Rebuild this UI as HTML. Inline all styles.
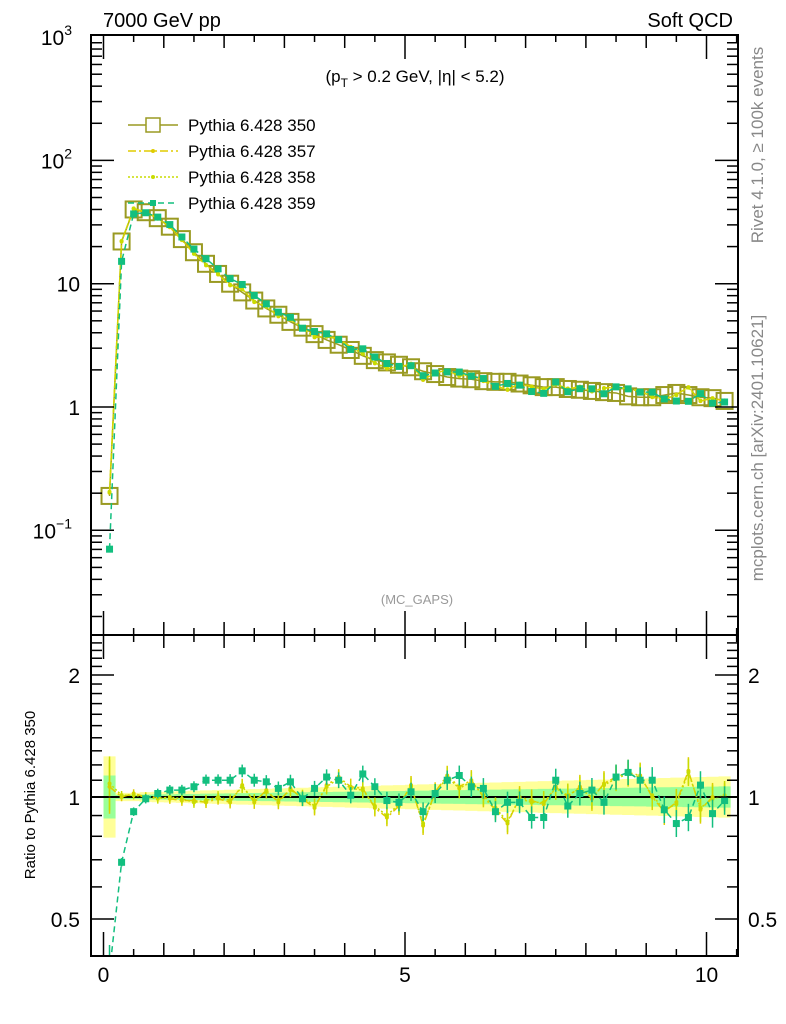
<!DOCTYPE html>
<html><head><meta charset="utf-8">
<style>
html,body{margin:0;padding:0;background:#fff;}
svg{display:block;font-family:"Liberation Sans",Arial,sans-serif;}
</style></head>
<body>
<svg id="chart" width="786" height="1024" viewBox="0 0 786 1024" xmlns="http://www.w3.org/2000/svg">
  <defs>
    <clipPath id="clipMain"><rect x="91" y="35" width="647" height="600"/></clipPath>
    <clipPath id="clipRatio"><rect x="91" y="635" width="647" height="321"/></clipPath>
  </defs>
  <g id="bands" clip-path="url(#clipRatio)"></g>
  <g id="mainSeries" clip-path="url(#clipMain)"></g>
  <g id="ratioSeries" clip-path="url(#clipRatio)"></g>
  <g id="axes"></g>
  <rect x="91" y="35" width="647" height="600" fill="none" stroke="#000" stroke-width="2"/>
  <rect x="91" y="635" width="647" height="321" fill="none" stroke="#000" stroke-width="2"/>

  <text x="103" y="27" font-size="20">7000 GeV pp</text>
  <text x="733" y="27" font-size="20" text-anchor="end">Soft QCD</text>
  <text x="415" y="82" font-size="17" text-anchor="middle">(p<tspan font-size="12" dy="5">T</tspan><tspan dy="-5"> &gt; 0.2 GeV, |η| &lt; 5.2)</tspan></text>
  <text x="417" y="604" font-size="13" fill="#999" text-anchor="middle">(MC_GAPS)</text>
  <text transform="translate(763,145) rotate(-90)" font-size="17" fill="#888" text-anchor="middle">Rivet 4.1.0, ≥ 100k events</text>
  <text transform="translate(763,448) rotate(-90)" font-size="17" fill="#888" text-anchor="middle">mcplots.cern.ch [arXiv:2401.10621]</text>
  <text transform="translate(35,795) rotate(-90)" font-size="15" text-anchor="middle">Ratio to Pythia 6.428 350</text>

  <g id="legend"></g>
</svg>
<script>
const binCenters = [0.1,0.3,0.5,0.7,0.9,1.1,1.3,1.5,1.7,1.9,2.1,2.3,2.5,2.7,2.9,3.1,3.3,3.5,3.7,3.9,4.1,4.3,4.5,4.7,4.9,5.1,5.3,5.5,5.7,5.9,6.1,6.3,6.5,6.7,6.9,7.1,7.3,7.5,7.7,7.9,8.1,8.3,8.5,8.7,8.9,9.1,9.3,9.5,9.7,9.9,10.1,10.3];
const ref350 = [0.19,22,40,38,34,29,23,18,14.5,12,10,8.5,7.3,6.3,5.6,4.9,4.4,3.9,3.5,3.2,2.9,2.6,2.4,2.3,2.2,2.1,1.95,1.85,1.75,1.7,1.68,1.62,1.6,1.6,1.55,1.5,1.45,1.45,1.4,1.38,1.35,1.32,1.3,1.22,1.2,1.2,1.25,1.3,1.25,1.2,1.18,1.12];
const ratio357 = [1.06,1.0,1.02,1.0,1.0,0.99,0.98,0.98,0.97,0.99,0.97,1.07,0.97,1.04,0.97,1.05,0.99,0.94,1.07,1.12,1.06,1.05,0.94,0.89,0.95,1.07,0.85,1.03,1.13,1.06,1.10,1.0,0.93,0.86,1.0,0.98,0.96,1.06,1.0,1.06,0.99,1.08,1.12,1.15,1.13,1.0,0.92,0.97,1.16,0.93,1.0,1.0];
const ratio358 = [1.08,1.01,1.01,1.0,0.99,1.0,0.99,0.97,0.98,1.0,0.98,1.06,0.98,1.03,0.98,1.04,1.0,0.95,1.06,1.11,1.05,1.04,0.95,0.90,0.96,1.06,0.86,1.02,1.12,1.05,1.09,1.01,0.94,0.87,0.99,0.97,0.97,1.05,1.01,1.05,1.0,1.07,1.11,1.14,1.12,1.01,0.93,0.96,1.15,0.94,0.99,1.01];
const ratio359 = [0.37,0.69,0.92,0.99,1.02,1.04,1.04,1.06,1.10,1.10,1.10,1.16,1.10,1.09,1.05,1.09,0.99,1.05,1.12,1.10,1.01,1.14,1.06,0.98,0.97,1.03,0.92,1.02,1.10,1.13,1.06,1.05,0.92,0.97,0.97,0.89,0.89,1.10,0.95,1.02,1.04,0.97,1.12,1.15,1.10,1.10,0.93,0.86,0.89,1.07,0.91,0.98];
const relErr = [0.13,0.012,0.012,0.014,0.015,0.016,0.017,0.018,0.019,0.02,0.021,0.022,0.023,0.024,0.025,0.026,0.027,0.028,0.029,0.03,0.031,0.032,0.033,0.034,0.035,0.036,0.037,0.038,0.039,0.04,0.041,0.042,0.043,0.044,0.045,0.046,0.047,0.048,0.049,0.05,0.051,0.052,0.053,0.054,0.055,0.056,0.057,0.058,0.059,0.06,0.061,0.062];
const xTickLabels = ["0","5","10"];
const yRatioTickLabels = ["0.5","1","2"];

const NS="http://www.w3.org/2000/svg";
const X0=103.5, XS=60.3;
function xs(v){return X0+v*XS;}
function ym(v){return 407-123.3*Math.log10(v);}
function yr(v){return 797-122*Math.log2(v);}
function mk(tag,attrs,parent){const e=document.createElementNS(NS,tag);for(const k in attrs)e.setAttribute(k,attrs[k]);parent.appendChild(e);return e;}
const axes=document.getElementById('axes');
const mainG=document.getElementById('mainSeries');
const ratioG=document.getElementById('ratioSeries');
const bandG=document.getElementById('bands');

function bandPath(err,scale){
  let up='',lo='';
  binCenters.forEach((c,i)=>{
    const e=err[i]*scale;
    up+=(i?'L':'M')+xs(c-0.1)+','+yr(1+e)+'L'+xs(c+0.1)+','+yr(1+e);
  });
  for(let i=binCenters.length-1;i>=0;i--){const c=binCenters[i];const e=err[i]*scale;lo+='L'+xs(c+0.1)+','+yr(1/(1+e))+'L'+xs(c-0.1)+','+yr(1/(1+e));}
  return up+lo+'Z';
}
const yb=mk('path',{d:bandPath(relErr,2),fill:'#ffff99'},bandG);


const gb=mk('path',{d:bandPath(relErr,1),fill:'#99ff99'},bandG);



for(let d=-2;d<=2;d++){
  for(let m=1;m<10;m++){
    const v=m*Math.pow(10,d);const y=ym(v);
    if(y<35||y>635)continue;
    const L=m===1?23:11;
    mk('line',{x1:91,y1:y,x2:91+L,y2:y,stroke:'#000','stroke-width':1.5},axes);
    mk('line',{x1:738,y1:y,x2:738-L,y2:y,stroke:'#000','stroke-width':1.5},axes);
  }
}
mk('line',{x1:91,y1:35,x2:114,y2:35,stroke:'#000','stroke-width':1.5},axes);
[[0.1,'10','−1'],[1,'1',''],[10,'10',''],[100,'10','2'],[1000,'10','3']].forEach(([v,b,e])=>{
  const t=mk('text',{x:e?72:80,y:ym(v)+8,'font-size':21,'text-anchor':'end'},axes);
  
  
  t.textContent=b;
  if(e){const s=mk('tspan',{'font-size':14,dy:-10},t);s.textContent=e;}
});
for(let k=0;k<=21;k++){
  const v=k*0.5;const x=xs(v);
  const L=(k%10===0)?24:(k%2===0?13:7);
  [[35,1],[635,1],[635,-1],[956,-1]].forEach(([y0,dir])=>{
    mk('line',{x1:x,y1:y0,x2:x,y2:y0+dir*L,stroke:'#000','stroke-width':1.5},axes);
  });
}
[0,5,10].forEach((v,i)=>{
  const t=mk('text',{x:xs(v),y:982,'font-size':21,'text-anchor':'middle'},axes);
  
  
  t.textContent=xTickLabels[i];
});
[0.4,0.5,0.6,0.7,0.8,0.9,1,1.1,1.2,1.3,1.4,1.5,1.6,1.7,1.8,1.9,2,2.1,2.2,2.3,2.4].forEach(v=>{
  const y=yr(v);if(y<636||y>956)return;
  const L=(v===0.5||v===1||v===2)?23:11;
  mk('line',{x1:91,y1:y,x2:91+L,y2:y,stroke:'#000','stroke-width':1.5},axes);
  mk('line',{x1:738,y1:y,x2:738-L,y2:y,stroke:'#000','stroke-width':1.5},axes);
});
[0.5,1,2].forEach((v,i)=>{
  const t=mk('text',{x:80,y:yr(v)+8,'font-size':21,'text-anchor':'end'},axes);
  
  
  t.textContent=yRatioTickLabels[i];
  const t2=mk('text',{x:748,y:yr(v)+8,'font-size':21},axes);
  
  
  t2.textContent=yRatioTickLabels[i];
});
const one=mk('line',{x1:91,y1:yr(1),x2:738,y2:yr(1),stroke:'#000','stroke-width':2},ratioG);



const series=[
 {name:'Pythia 6.428 350',key:'350',color:'#9a9a22',dash:'',ratio:null},
 {name:'Pythia 6.428 357',key:'357',color:'#e0cc00',dash:'8,3,2,3',ratio:ratio357},
 {name:'Pythia 6.428 358',key:'358',color:'#c8dc00',dash:'2,2',ratio:ratio358},
 {name:'Pythia 6.428 359',key:'359',color:'#12bf7f',dash:'6,4',ratio:ratio359}
];
series.forEach(s=>{
  const vals=binCenters.map((c,i)=>s.ratio?ref350[i]*s.ratio[i]:ref350[i]);
  const rats=binCenters.map((c,i)=>s.ratio?s.ratio[i]:1);
  const pts=binCenters.map((c,i)=>xs(c)+','+ym(vals[i])).join(' ');
  const pl=mk('polyline',{points:pts,fill:'none',stroke:s.color,'stroke-width':1.5,'stroke-dasharray':s.dash},mainG);
  
  
  if(s.ratio){
    const rp=binCenters.map((c,i)=>xs(c)+','+yr(rats[i])).join(' ');
    const rl=mk('polyline',{points:rp,fill:'none',stroke:s.color,'stroke-width':1.5,'stroke-dasharray':s.dash},ratioG);
    
    
  }
  binCenters.forEach((c,i)=>{
    const x=xs(c),y=ym(vals[i]);
    let m;
    if(s.key==='350'){m=mk('rect',{x:x-8,y:y-8,width:16,height:16,fill:'none',stroke:s.color,'stroke-width':2},mainG);}
    else if(s.key==='359'){m=mk('rect',{x:x-3.5,y:y-3.5,width:7,height:7,fill:s.color},mainG);}
    else {m=mk('circle',{cx:x,cy:y,r:2,fill:s.color},mainG);}
    
    
    if(s.ratio){
      const ry=yr(rats[i]);const e=relErr[i]*1.2+0.01;
      const eb=mk('line',{x1:x,y1:yr(rats[i]*(1+e)),x2:x,y2:yr(rats[i]/(1+e)),stroke:s.color,'stroke-width':1.5},ratioG);
      
      
      let rm;
      if(s.key==='359')rm=mk('rect',{x:x-3.5,y:ry-3.5,width:7,height:7,fill:s.color},ratioG);
      else rm=mk('circle',{cx:x,cy:ry,r:2,fill:s.color},ratioG);
      
      
    }
  });
});

const lg=document.getElementById('legend');
series.forEach((s,i)=>{
  const y=125+i*26;
  const g=mk('g',{},lg);
  
  
  mk('line',{x1:128,y1:y,x2:178,y2:y,stroke:s.color,'stroke-width':1.5,'stroke-dasharray':s.dash},g);
  if(s.key==='350')mk('rect',{x:146,y:y-7,width:14,height:14,fill:'#fff',stroke:s.color,'stroke-width':1.5},g);
  else if(s.key==='359')mk('rect',{x:150,y:y-3,width:6,height:6,fill:s.color},g);
  else mk('circle',{cx:153,cy:y,r:2,fill:s.color},g);
  const t=mk('text',{x:188,y:y+6,'font-size':17},g);
  t.textContent=s.name;
});
</script>
</body></html>
